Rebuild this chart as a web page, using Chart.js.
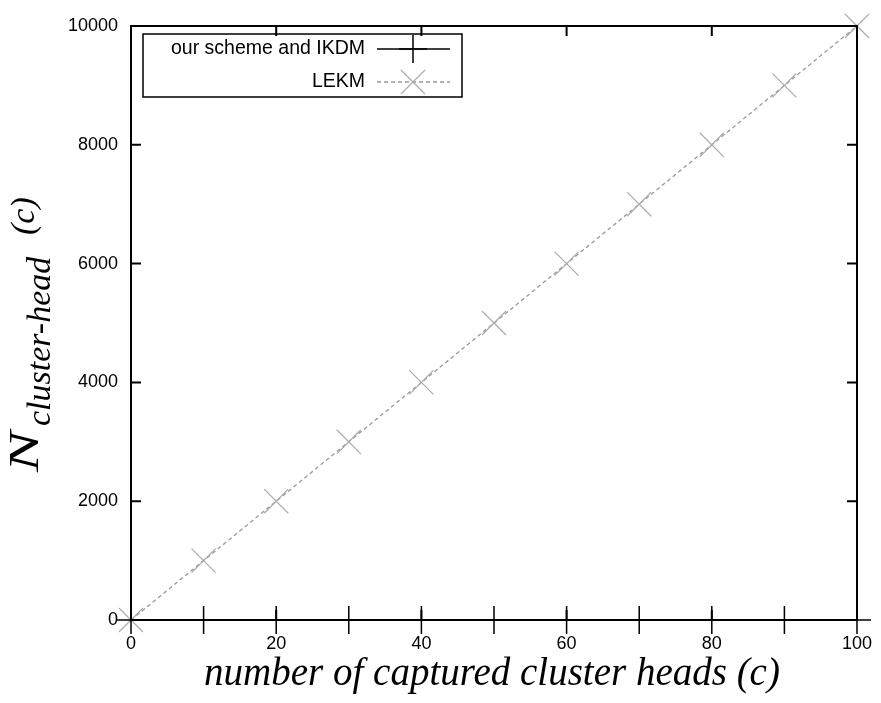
<!DOCTYPE html>
<html>
<head>
<meta charset="utf-8">
<script src="https://cdn.jsdelivr.net/npm/chart.js@4/dist/chart.umd.min.js"></script>
<style>
  body { margin: 0; background: #fff; }
  #wrap { width: 881px; height: 703px; position: relative; }
</style>
</head>
<body>
<div id="wrap"><canvas id="cluster_chart"></canvas></div>
<script>
// captured cluster heads (c)
var xValues = [0, 10, 20, 30, 40, 50, 60, 70, 80, 90, 100];
var ikdmValues = [0, 0, 0, 0, 0, 0, 0, 0, 0, 0, 0];
var lekmValues = [0, 1000, 2000, 3000, 4000, 5000, 6000, 7000, 8000, 9000, 10000];
var xTicks = [0, 20, 40, 60, 80, 100];
var yTicks = [0, 2000, 4000, 6000, 8000, 10000];
var seriesNames = ['our scheme and IKDM', 'LEKM'];

function toPoints(ys) {
    return xValues.map(function (x, i) { return { x: x, y: ys[i] }; });
}

// gnuplot style frame with inward ticks on all four sides
var framePlugin = {
    id: 'frame',
    afterDatasetsDraw: function (chart) {
        var c = chart.ctx, a = chart.chartArea;
        var xs = chart.scales.x, ys = chart.scales.y;
        var len = 10;
        c.save();
        c.strokeStyle = '#000';
        c.lineWidth = 2;
        c.strokeRect(a.left, a.top, a.right - a.left, a.bottom - a.top);
        c.beginPath();
        yTicks.forEach(function (v) {
            var py = ys.getPixelForValue(v);
            c.moveTo(a.left, py); c.lineTo(a.left + len, py);
            c.moveTo(a.right, py); c.lineTo(a.right - len, py);
        });
        xTicks.forEach(function (v) {
            var px = xs.getPixelForValue(v);
            c.moveTo(px, a.top); c.lineTo(px, a.top + len);
            c.moveTo(px, a.bottom); c.lineTo(px, a.bottom - len);
        });
        c.stroke();
        c.restore();
    }
};

// legend box in the upper left corner, text to the left of the sample
var legendPlugin = {
    id: 'boxLegend',
    afterDraw: function (chart) {
        var c = chart.ctx;
        var box = { l: 143, t: 34, r: 462, b: 97 };
        var rows = [49, 82];
        c.save();
        c.strokeStyle = '#000';
        c.lineWidth = 1.5;
        c.strokeRect(box.l, box.t, box.r - box.l, box.b - box.t);
        c.font = '19.5px "Liberation Sans", Arial, sans-serif';
        c.fillStyle = '#000';
        c.textAlign = 'right';
        c.textBaseline = 'middle';
        chart.data.datasets.forEach(function (ds, i) {
            var y = rows[i];
            c.fillText(ds.label, 365, y);
            c.save();
            c.strokeStyle = ds.borderColor;
            c.lineWidth = ds.borderWidth;
            c.setLineDash(ds.borderDash || []);
            c.beginPath();
            c.moveTo(377, y); c.lineTo(450, y);
            c.stroke();
            c.setLineDash([]);
            c.strokeStyle = ds.pointBorderColor;
            c.lineWidth = ds.pointBorderWidth;
            var r = ds.pointRadius, mx = 413;
            c.beginPath();
            if (ds.pointStyle === 'cross') {
                c.moveTo(mx - r, y); c.lineTo(mx + r, y);
                c.moveTo(mx, y - r); c.lineTo(mx, y + r);
            } else {
                var d = r * Math.SQRT1_2;
                c.moveTo(mx - d, y - d); c.lineTo(mx + d, y + d);
                c.moveTo(mx - d, y + d); c.lineTo(mx + d, y - d);
            }
            c.stroke();
            c.restore();
        });
        c.restore();
    }
};

// axis titles: italic serif, y title with subscript
var titlePlugin = {
    id: 'axisTitles',
    afterDraw: function (chart) {
        var c = chart.ctx;
        var serif = '"Liberation Serif", "Times New Roman", serif';
        c.save();
        c.fillStyle = '#000';
        c.textBaseline = 'alphabetic';
        c.textAlign = 'center';
        c.font = 'italic 39px ' + serif;
        c.fillText('number of captured cluster heads (c)', 492, 685);

        c.translate(38, 472);
        c.rotate(-Math.PI / 2);
        c.textAlign = 'left';
        c.save();
        c.scale(1.45, 1);
        c.font = 'italic 42px ' + serif;
        c.fillText('N', 0, 0);
        c.restore();
        c.font = 'italic 34px ' + serif;
        c.fillText('cluster-head', 46, 12);
        c.fillText('(c)', 237, -4);
        c.restore();
    }
};

var ctx = document.getElementById('cluster_chart').getContext('2d');
var myChart = new Chart(ctx, {
    type: 'line',
    data: {
        datasets: [{
            label: seriesNames[0],
            data: toPoints(ikdmValues),
            borderColor: '#000',
            borderWidth: 1.5,
            pointStyle: 'cross',
            pointRadius: 14,
            pointBorderColor: '#000',
            pointBorderWidth: 1.5,
            clip: false
        }, {
            label: seriesNames[1],
            data: toPoints(lekmValues),
            borderColor: '#9a9a9a',
            borderWidth: 1.3,
            borderDash: [4, 3],
            pointStyle: 'crossRot',
            pointRadius: 17,
            pointBorderColor: '#aaaaaa',
            pointBorderWidth: 1.2,
            clip: false
        }]
    },
    options: {
        responsive: true,
        maintainAspectRatio: false,
        animation: false,
        layout: { padding: { top: 26, right: 24, left: 0, bottom: 0 } },
        plugins: {
            legend: { display: false },
            tooltip: { enabled: false }
        },
        scales: {
            x: {
                type: 'linear',
                min: 0,
                max: 100,
                afterFit: function (s) { s.height = 83; s.paddingLeft = 0; s.paddingRight = 0; },
                afterBuildTicks: function (s) { s.ticks = xTicks.map(function (v) { return { value: v }; }); },
                grid: { display: false, drawTicks: false },
                border: { display: false },
                ticks: {
                    padding: 13,
                    color: '#000',
                    maxRotation: 0,
                    font: { size: 18, family: '"Liberation Sans", Arial, sans-serif' }
                }
            },
            y: {
                min: 0,
                max: 10000,
                afterFit: function (s) { s.width = 131; s.paddingTop = 0; s.paddingBottom = 0; },
                afterBuildTicks: function (s) { s.ticks = yTicks.map(function (v) { return { value: v }; }); },
                grid: { display: false, drawTicks: false },
                border: { display: false },
                ticks: {
                    padding: 13,
                    color: '#000',
                    font: { size: 18, family: '"Liberation Sans", Arial, sans-serif' },
                    callback: function (v) { return String(v); }
                }
            }
        }
    },
    plugins: [framePlugin, legendPlugin, titlePlugin]
});
</script>
</body>
</html>
